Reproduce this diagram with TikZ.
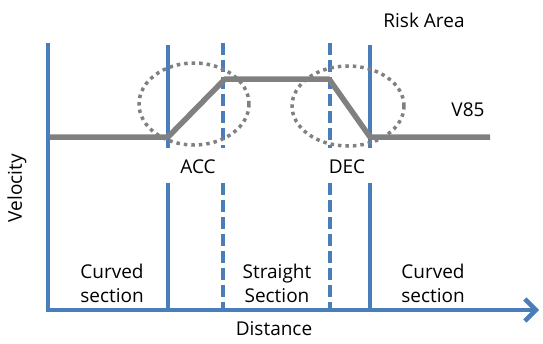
\documentclass[tikz,border=0pt]{standalone}
\usepackage{fontspec}
\setmainfont{Open Sans}
\usetikzlibrary{arrows.meta}
\definecolor{axisblue}{RGB}{74,126,187}
\definecolor{speedgray}{RGB}{128,128,128}
\begin{document}
\begin{tikzpicture}[x=1pt,y=-1pt,
  axisline/.style={draw=axisblue,line width=4.5pt},
  solidsep/.style={draw=axisblue,line width=4.5pt},
  dashsep/.style={draw=axisblue,line width=4.5pt,dash pattern=on 12pt off 5pt},
  speed/.style={draw=speedgray,line width=5.5pt,line join=round},
  zone/.style={draw=speedgray,line width=3.5pt,dash pattern=on 3.5pt off 4pt},
  lbl/.style={font=\fontsize{19}{24}\selectfont,align=center,inner sep=0pt}
]
\useasboundingbox (0,0) rectangle (543,343);
% axes
\coordinate (ytop) at (48,43);
\coordinate (orig) at (48,310);
\coordinate (xend) at (539,310);
\draw[axisline,line join=miter,-{Straight Barb[length=11pt,width=22pt]}] (ytop) -- (orig) -- (xend);
% section separators
\coordinate (s1t) at (168,45); \coordinate (s1m) at (168,148);
\coordinate (s1b) at (168,183); \coordinate (s1e) at (168,310);
\coordinate (d1t) at (223,43); \coordinate (d1m) at (223,148);
\coordinate (d1b) at (223,183); \coordinate (d1e) at (223,310);
\coordinate (d2t) at (330,43); \coordinate (d2m) at (330,148);
\coordinate (d2b) at (330,183); \coordinate (d2e) at (330,310);
\coordinate (s2t) at (370,45); \coordinate (s2m) at (370,148);
\coordinate (s2b) at (370,183); \coordinate (s2e) at (370,310);
\draw[solidsep] (s1t) -- (s1m) (s1b) -- (s1e);
\draw[solidsep] (s2t) -- (s2m) (s2b) -- (s2e);
\draw[dashsep] (d1t) -- (d1m) (d1b) -- (d1e);
\draw[dashsep] (d2t) -- (d2m) (d2b) -- (d2e);
% speed profile
\coordinate (v0) at (50,137);
\coordinate (v1) at (168,137);
\coordinate (v2) at (225,79);
\coordinate (v3) at (329,79);
\coordinate (v4) at (370,137);
\coordinate (v5) at (490,137);
\draw[speed] (v0) -- (v1) -- (v2) -- (v3) -- (v4) -- (v5);
% risk zones
\draw[zone] (194,104) ellipse [x radius=55, y radius=41];
\draw[zone] (348,106) ellipse [x radius=56, y radius=40];
% labels
\node[lbl] (risk) at (424,20) {Risk Area};
\node[lbl] (v85) at (468,110) {V85};
\node[lbl] (acc) at (198,167) {ACC};
\node[lbl] (dec) at (347,167) {DEC};
\node[lbl,rotate=90] (vel) at (17,188) {Velocity};
\node[lbl] (dist) at (274,329) {Distance};
\node[lbl] (cs1) at (112,283) {Curved\\section};
\node[lbl] (ss) at (277,283) {Straight\\Section};
\node[lbl] (cs2) at (433,283) {Curved\\section};
\end{tikzpicture}
\end{document}
